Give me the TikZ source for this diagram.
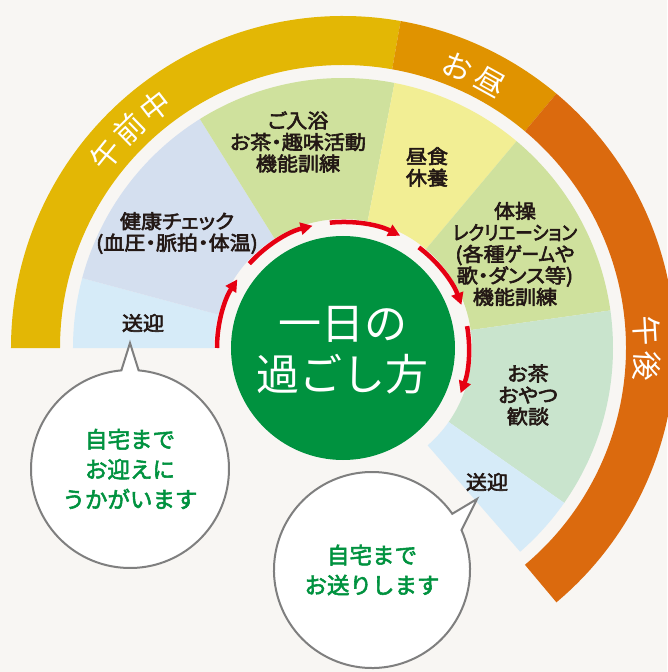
\documentclass[tikz,border=0pt]{standalone}
\usepackage{fontspec}
\newfontfamily\jp[RawFeature=+palt, FakeStretch=1.08, FakeBold=3]{Noto Sans CJK JP}
\newfontfamily\jpnarrow[RawFeature=+palt, FakeStretch=0.9, FakeBold=3]{Noto Sans CJK JP}
\newfontfamily\jpwide[FakeBold=2.5]{Noto Sans CJK JP}
\newfontfamily\jplight{Noto Sans CJK JP}
\usetikzlibrary{arrows.meta,calc}
\definecolor{paper}{HTML}{F8F6F3}
\definecolor{amring}{HTML}{E3B705}
\definecolor{noonring}{HTML}{E09300}
\definecolor{pmring}{HTML}{DB6A0E}
\definecolor{sogeiblue}{HTML}{D6EBF8}
\definecolor{checkblue}{HTML}{D4DFEF}
\definecolor{actgreen}{HTML}{CFE19D}
\definecolor{lunchyellow}{HTML}{F2EE94}
\definecolor{teagreen}{HTML}{C9E4CD}
\definecolor{daygreen}{HTML}{00923F}
\definecolor{flowred}{HTML}{E60012}
\definecolor{ink}{HTML}{231815}
\definecolor{bubblegray}{HTML}{7F7F7F}

\begin{document}
\begin{tikzpicture}[x=1pt, y=1pt,
  every node/.style={font=\jp\fontsize{19.5}{21.5}\selectfont, text=ink, align=center, inner sep=0pt},
  ringtext/.style={font=\jplight\fontsize{30}{30}\selectfont, text=white},
  bubble/.style={draw=bubblegray, line width=2pt, fill=white},
  bubbletext/.style={font=\jpwide\fontsize{22.5}{30}\selectfont, text=daygreen},
  flow/.style={draw=flowred, line width=4.5pt, -{Triangle[length=12pt,width=12pt]}}]
\useasboundingbox (-343,-324) rectangle (324,348);
\fill[paper] (-343,-324) rectangle (324,348);

% outer time ring
\foreach \a/\b/\c in {180/80/amring, 80/50/noonring, 50/-50/pmring}
  \fill[\c] (\a:283) arc[start angle=\a, end angle=\b, radius=283]
    -- (\b:332) arc[start angle=\b, end angle=\a, radius=332] -- cycle;
\foreach \ch [count=\i, evaluate=\i as \ang using 134.3-(\i-2)*6.5] in {午,前,中}
  \node[ringtext, rotate=\ang-90] (am-\i) at (\ang:306) {\ch};
\foreach \ch [count=\i, evaluate=\i as \ang using 64.4-(\i-1.5)*6.7] in {お,昼}
  \node[ringtext, rotate=\ang-90] (noon-\i) at (\ang:304) {\ch};
\foreach \ch [count=\i, evaluate=\i as \ang using -0.1-(\i-1.5)*6.6] in {午,後}
  \node[ringtext, rotate=\ang-90] (pm-\i) at (\ang:304) {\ch};

% activity wedges
\foreach \a/\b/\c in {180/165/sogeiblue, 165/122/checkblue, 122/79/actgreen,
    79/50/lunchyellow, 50/8/actgreen, 8/-35/teagreen, -35/-49/sogeiblue}
  \fill[\c] (\a:129) arc[start angle=\a, end angle=\b, radius=129]
    -- (\b:270) arc[start angle=\b, end angle=\a, radius=270] -- cycle;

\node (pickup) at (-200,25) {送迎};
\node (check) at (-166,115) {健康チェック\\(血圧・脈拍・体温)};
\node (bath) at (-45,206) {ご入浴\\お茶・趣味活動\\機能訓練};
\node (lunch) at (84,181) {昼食\\休養};
\node (exercise) at (172,94) {体操\\{\jpnarrow レクリエーション}\\(各種{\jpnarrow ゲーム}や\\歌・ダンス等)\\機能訓練};
\node (tea) at (185,-47) {お茶\\おやつ\\歓談};
\node (dropoff) at (144,-134) {送迎};

% centre
\fill[daygreen] (0,0) circle[radius=112];
\node[font=\jplight\fontsize{43}{51}\selectfont, text=white] (day) at (0,-2) {一日の\\過ごし方};

% flow arrows
\foreach \a/\b in {180/147, 138/104, 96/63, 53/20, 10/-21}
  \draw[flow] (\a:126) arc[start angle=\a, end angle=\b, radius=126];

% speech bubbles
\coordinate (pickupC) at (-213,-121);
\coordinate (pickupTip) at (-213,5);
\draw[bubble] ($(pickupC)+(95:99)$) -- (pickupTip) -- ($(pickupC)+(85:99)$)
  arc[start angle=85, end angle=-265, radius=99] -- cycle;
\node[bubbletext] (pickupmsg) at (pickupC) {自宅まで\\お迎えに\\うかがいます};

\coordinate (dropC) at (29,-222);
\coordinate (dropTip) at (134,-151);
\draw[bubble] ($(dropC)+(35:98)$) -- (dropTip) -- ($(dropC)+(24:98)$)
  arc[start angle=24, end angle=-325, radius=98] -- cycle;
\node[bubbletext] (dropmsg) at (dropC) {自宅まで\\お送りします};
\end{tikzpicture}
\end{document}
